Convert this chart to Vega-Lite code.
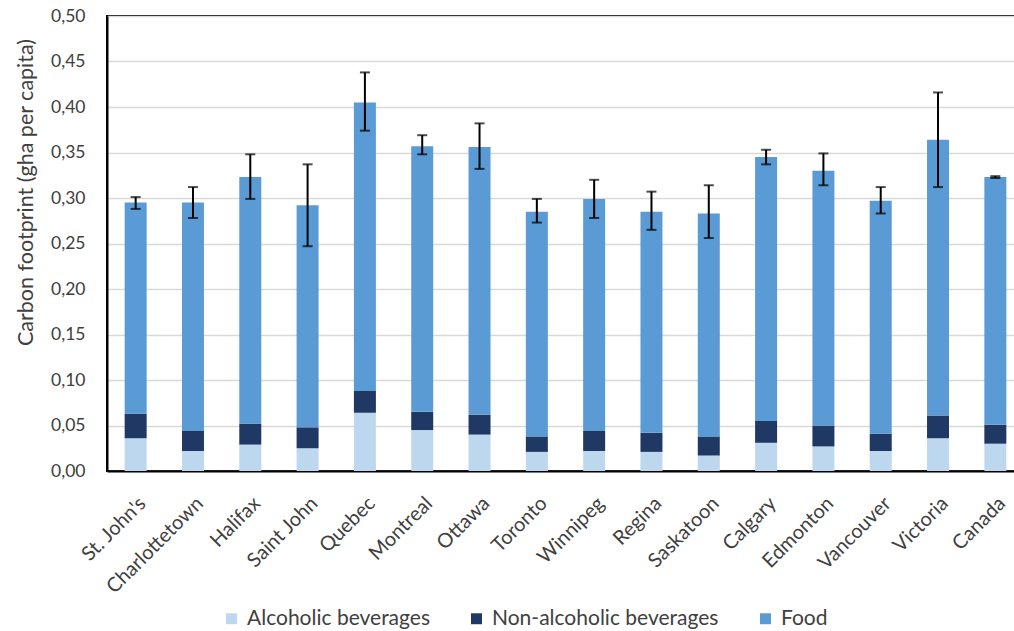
{
  "$schema": "https://vega.github.io/schema/vega-lite/v6.json",
  "autosize": {"type": "none"},
  "padding": {"left": 107, "top": 16, "right": 0, "bottom": 160},
  "width": 917,
  "height": 455,
  "background": "white",
  "config": {
    "view": {"stroke": "#000000", "strokeWidth": 2},
    "font": "Lato",
    "axis": {"labelColor": "#404040", "titleColor": "#404040", "labelFont": "Lato", "titleFont": "Lato"}
  },
  "data": {
    "values": [
      {"city": "St. John's", "alc": 0.036, "nonalc": 0.027, "food": 0.232, "lo": 0.288, "hi": 0.301},
      {"city": "Charlottetown", "alc": 0.022, "nonalc": 0.022, "food": 0.251, "lo": 0.278, "hi": 0.312},
      {"city": "Halifax", "alc": 0.029, "nonalc": 0.023, "food": 0.271, "lo": 0.299, "hi": 0.348},
      {"city": "Saint John", "alc": 0.025, "nonalc": 0.023, "food": 0.244, "lo": 0.247, "hi": 0.337},
      {"city": "Quebec", "alc": 0.064, "nonalc": 0.024, "food": 0.317, "lo": 0.374, "hi": 0.438},
      {"city": "Montreal", "alc": 0.045, "nonalc": 0.020, "food": 0.292, "lo": 0.348, "hi": 0.369},
      {"city": "Ottawa", "alc": 0.040, "nonalc": 0.022, "food": 0.294, "lo": 0.332, "hi": 0.382},
      {"city": "Toronto", "alc": 0.021, "nonalc": 0.017, "food": 0.247, "lo": 0.273, "hi": 0.299},
      {"city": "Winnipeg", "alc": 0.022, "nonalc": 0.022, "food": 0.255, "lo": 0.278, "hi": 0.320},
      {"city": "Regina", "alc": 0.021, "nonalc": 0.021, "food": 0.243, "lo": 0.265, "hi": 0.307},
      {"city": "Saskatoon", "alc": 0.017, "nonalc": 0.021, "food": 0.245, "lo": 0.256, "hi": 0.314},
      {"city": "Calgary", "alc": 0.031, "nonalc": 0.024, "food": 0.290, "lo": 0.337, "hi": 0.353},
      {"city": "Edmonton", "alc": 0.027, "nonalc": 0.023, "food": 0.280, "lo": 0.314, "hi": 0.349},
      {"city": "Vancouver", "alc": 0.022, "nonalc": 0.019, "food": 0.256, "lo": 0.283, "hi": 0.312},
      {"city": "Victoria", "alc": 0.036, "nonalc": 0.025, "food": 0.303, "lo": 0.312, "hi": 0.416},
      {"city": "Canada", "alc": 0.030, "nonalc": 0.021, "food": 0.272, "lo": 0.322, "hi": 0.324}
    ]
  },
  "encoding": {
    "x": {
      "field": "city",
      "type": "nominal",
      "sort": null,
      "scale": {"paddingInner": 0, "paddingOuter": 0},
      "axis": {
        "title": null,
        "labelAngle": -45,
        "labelAlign": "right",
        "labelBaseline": "top",
        "labelFontSize": 20,
        "labelPadding": 22,
        "labelLimit": 0,
        "ticks": false,
        "domainColor": "#000000",
        "domainWidth": 2,
        "grid": false
      }
    }
  },
  "layer": [
    {
      "transform": [
        {"fold": ["alc", "nonalc", "food"], "as": ["type", "value"]},
        {"calculate": "indexof(['alc','nonalc','food'], datum.type)", "as": "rank"}
      ],
      "mark": {"type": "bar", "width": 22},
      "encoding": {
        "y": {
          "field": "value",
          "type": "quantitative",
          "stack": "zero",
          "scale": {"domain": [0, 0.5], "nice": false},
          "axis": {
            "title": "Carbon footprint (gha per capita)",
            "titleFontSize": 21.5,
            "titleFontWeight": "normal",
            "titleAngle": -90,
            "titleAlign": "center",
            "titleBaseline": "middle",
            "titleX": -81,
            "titleY": 176,
            "values": [0, 0.05, 0.1, 0.15, 0.2, 0.25, 0.3, 0.35, 0.4, 0.45, 0.5],
            "labelExpr": "replace(format(datum.value, '.2f'), '.', ',')",
            "labelFontSize": 17.5,
            "labelPadding": 22,
            "ticks": false,
            "domainColor": "#000000",
            "domainWidth": 2,
            "gridColor": "#d9d9d9",
            "gridWidth": 1.5
          }
        },
        "color": {
          "field": "type",
          "type": "nominal",
          "scale": {"domain": ["alc", "nonalc", "food"], "range": ["#bdd7ee", "#203864", "#5b9bd5"]},
          "legend": {
            "title": null,
            "orient": "none",
            "direction": "horizontal",
            "legendX": 114,
            "legendY": 592,
            "symbolType": "square",
            "symbolSize": 120,
            "symbolStrokeWidth": 0,
            "labelFont": "Lato",
            "labelFontSize": 21,
            "labelLimit": 0,
            "labelColor": "#404040",
            "labelOffset": 5,
            "columnPadding": 36,
            "labelExpr": "datum.label == 'alc' ? 'Alcoholic beverages' : datum.label == 'nonalc' ? 'Non-alcoholic beverages' : 'Food'"
          }
        },
        "order": {"field": "rank", "type": "quantitative"}
      }
    },
    {
      "mark": {"type": "rule", "color": "#000000", "strokeWidth": 2},
      "encoding": {"y": {"field": "lo", "type": "quantitative"}, "y2": {"field": "hi"}}
    },
    {
      "mark": {"type": "tick", "color": "#000000", "thickness": 2, "size": 10},
      "encoding": {"y": {"field": "lo", "type": "quantitative"}}
    },
    {
      "mark": {"type": "tick", "color": "#000000", "thickness": 2, "size": 10},
      "encoding": {"y": {"field": "hi", "type": "quantitative"}}
    }
  ]
}
